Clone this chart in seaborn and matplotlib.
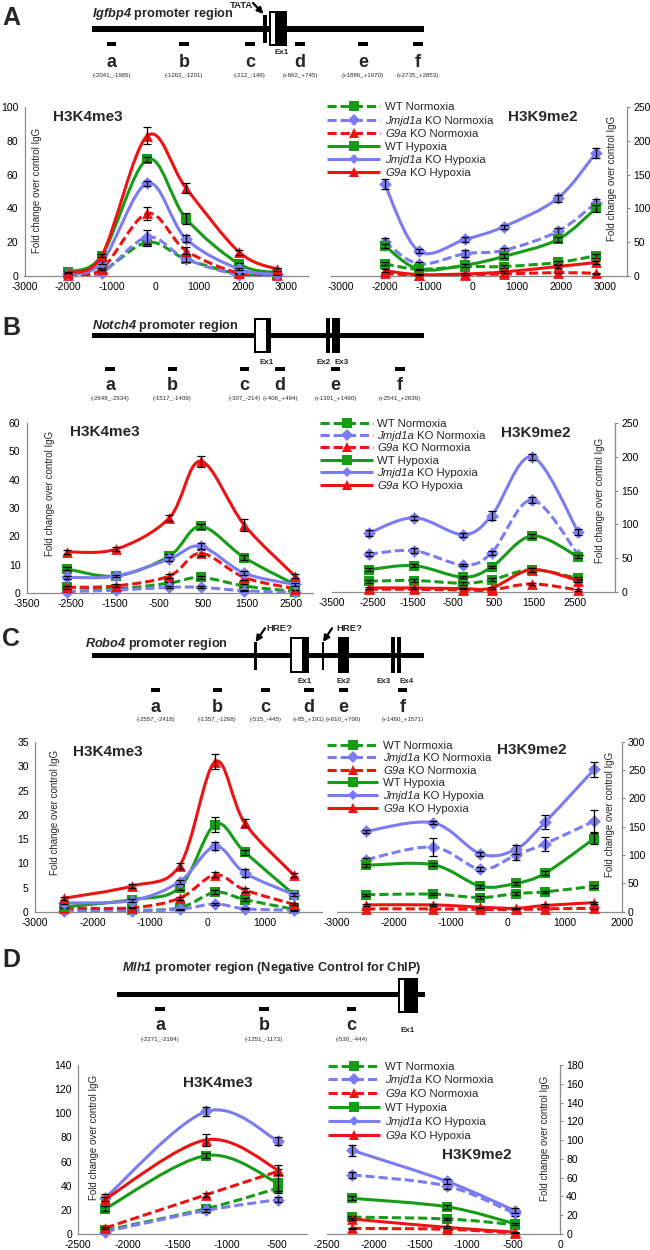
import numpy as np
import matplotlib
matplotlib.use("Agg")
import matplotlib.pyplot as plt
from matplotlib.path import Path
from matplotlib.patches import PathPatch, Rectangle
import seaborn as sns

sns.set_style("white")
plt.rcParams['font.family'] = ['Liberation Sans', 'DejaVu Sans']
plt.rcParams['axes.unicode_minus'] = False
plt.rcParams['mathtext.fontset'] = 'custom'
plt.rcParams['mathtext.rm'] = 'Liberation Sans'
plt.rcParams['mathtext.it'] = 'Liberation Sans:italic'
plt.rcParams['mathtext.bf'] = 'Liberation Sans:bold:italic'

# ---------------- data ----------------
series = ['WT Normoxia', 'Jmjd1a KO Normoxia', 'G9a KO Normoxia',
          'WT Hypoxia', 'Jmjd1a KO Hypoxia', 'G9a KO Hypoxia']
italic_genes = ['Jmjd1a', 'G9a']

# Igfbp4
A_x = [-2003, -1231.5, -180.5, 703.5, 1928, 2794]
A_k4 = [[2, 3, 20, 10, 1, 0.5],
        [1, 2, 23, 10, 0.5, 0.3],
        [0.5, 4, 37, 15, 1.5, 0.5],
        [2.5, 12, 69, 34, 7, 2],
        [1, 8, 55, 22, 4, 1],
        [2, 12, 83, 52, 14, 4]]
A_k4_err = [[0.5, 0.5, 2, 1.5, 0.3, 0.2],
            [0.3, 0.5, 4, 2, 0.2, 0.2],
            [0.2, 0.5, 4, 2, 0.3, 0.2],
            [0.5, 1, 1.5, 3, 0.8, 0.3],
            [0.3, 0.8, 1.5, 2, 0.5, 0.2],
            [0.5, 1, 5, 3, 1.5, 0.8]]
A_k9 = [[18, 10, 14, 14, 20, 30],
        [51, 18, 33, 38, 66, 108],
        [4, 1, 2, 3, 5, 4],
        [45, 10, 16, 29, 54, 100],
        [136, 37, 54, 73, 115, 182],
        [8, 2, 3, 6, 14, 20]]
A_k9_err = [[2, 1, 2, 2, 2, 3],
            [5, 2, 5, 3, 5, 6],
            [1, 0.5, 1, 1, 1, 1],
            [3, 1, 2, 3, 3, 5],
            [7, 3, 3, 3, 5, 8],
            [2, 1, 1, 1, 2, 2]]
A_ranges = ['(-2041_-1965)', '(-1262_-1201)', '(-212_-149)', '(+662_+745)', '(+1886_+1970)', '(+2735_+2853)']

# Notch4
B_x = [-2591, -1463, -260.5, 450, 1440.5, 2590]
B_k4 = [[2, 1.5, 3.5, 5.5, 2.5, 0.5],
        [0.5, 1, 2, 2, 0.8, 0.2],
        [2, 2.5, 6, 14, 5.5, 1.5],
        [8.5, 6, 13, 23.5, 12.5, 3],
        [5.5, 6, 12, 16.5, 7, 3],
        [14.5, 15.5, 26.5, 46.5, 24, 6]]
B_k4_err = [[0.3, 0.3, 0.5, 0.5, 0.5, 0.2],
            [0.2, 0.2, 0.3, 0.3, 0.2, 0.1],
            [0.5, 0.5, 0.8, 1, 0.8, 0.3],
            [0.5, 0.5, 0.8, 1, 0.8, 0.5],
            [0.5, 0.5, 0.8, 1, 0.8, 0.5],
            [0.8, 0.6, 1, 2, 2, 0.8]]
B_k9 = [[16, 17, 13, 18, 33, 20],
        [56, 61, 40, 58, 136, 55],
        [4, 4, 3, 3, 12, 3],
        [33, 39, 22, 37, 83, 52],
        [87, 110, 85, 113, 200, 89],
        [6, 6, 5, 6, 33, 17]]
B_k9_err = [[2, 2, 2, 2, 3, 2],
            [3, 4, 2, 3, 5, 3],
            [1, 1, 1, 1, 2, 1],
            [2, 2, 2, 2, 3, 2],
            [4, 3, 3, 7, 4, 4],
            [1, 1, 1, 1, 3, 2]]
B_ranges = ['(-2648_-2534)', '(-1517_-1409)', '(-307_-214)', '(+406_+494)', '(+1391_+1490)', '(+2541_+2639)']

# Robo4
C_x = [-2487.5, -1312.5, -480, 138, 655, 1515.5]
C_k4 = [[0.5, 0.3, 0.8, 4, 2.5, 0.5],
        [0.2, 0.2, 0.5, 1.6, 0.6, 0.3],
        [0.8, 0.8, 2.8, 7.6, 4.5, 1.5],
        [1, 2.5, 5, 18, 12.3, 3.5],
        [1.8, 2.3, 6.2, 13.5, 8, 3.5],
        [2.8, 5.3, 9.5, 31, 18.3, 7.5]]
C_k4_err = [[0.1, 0.1, 0.2, 0.4, 0.3, 0.1],
            [0.1, 0.1, 0.1, 0.3, 0.1, 0.1],
            [0.1, 0.1, 0.3, 0.5, 0.5, 0.2],
            [0.2, 0.3, 0.5, 1.5, 0.5, 0.3],
            [0.2, 0.3, 0.4, 0.8, 0.8, 0.3],
            [0.3, 0.4, 0.6, 1.5, 0.8, 0.4]]
C_k9 = [[30, 31, 25, 32, 35, 45],
        [92, 114, 75, 100, 120, 160],
        [5, 5, 4, 4, 5, 6],
        [82, 83, 45, 50, 68, 129],
        [142, 157, 102, 110, 158, 251],
        [12, 12, 8, 6, 11, 16]]
C_k9_err = [[2, 2, 2, 2, 2, 3],
            [3, 16, 4, 8, 12, 20],
            [1, 1, 1, 1, 1, 1],
            [3, 3, 3, 3, 3, 10],
            [3, 3, 4, 8, 12, 14],
            [2, 2, 1, 1, 2, 2]]
C_ranges = ['(-2557_-2418)', '(-1357_-1268)', '(-515_-445)', '(+85_+191)', '(+610_+700)', '(+1460_+1571)']

# Mlh1
D_x = [-2227.5, -1212, -487]
D_k4 = [[3, 21, 38],
        [2, 19.5, 28.5],
        [5, 32.5, 52],
        [21, 65, 42],
        [30, 101.5, 77],
        [29, 78, 53]]
D_k4_err = [[0.5, 1, 2], [0.5, 1, 2], [1, 1.5, 2], [2, 2, 8], [3, 3.5, 3], [2, 5, 4]]
D_k9 = [[18, 16, 10],
        [63, 51, 22],
        [6, 5, 1],
        [38, 29, 11],
        [89, 56, 25],
        [16, 7, 2]]
D_k9_err = [[1, 1, 1], [3, 3, 3], [0.5, 0.5, 0.3], [2, 2, 1], [6, 3, 3], [1, 1, 0.5]]
D_ranges = ['(-2271_-2184)', '(-1251_-1173)', '(-530_-444)']

# ---------------- style ----------------
GREEN, BLUE, RED = '#179c17', '#7b7bf2', '#ee1313'
COLORS = [GREEN, BLUE, RED, GREEN, BLUE, RED]
MARKERS = ['s', 'D', '^', 's', 'D', '^']
SIZES = [50, 42, 60, 50, 42, 60]
LEG_MS = [7, 6.5, 7.5, 7, 5, 7.5]
DASH = (0, (3, 1.3))
LS = [DASH, DASH, DASH, '-', '-', '-']
AXC = '#8a8a8a'

W, H = 650, 1250
fig = plt.figure(figsize=(W / 100, H / 100), dpi=100)
renderer = fig.canvas.get_renderer()
ov = fig.add_axes([0, 0, 1, 1], zorder=10)
ov.set_xlim(0, W)
ov.set_ylim(H, 0)
ov.axis('off')
ov.patch.set_alpha(0)


def px_box(x0, y0, x1, y1):
    return [x0 / W, 1 - y1 / H, (x1 - x0) / W, (y1 - y0) / H]


def smooth(x, y):
    # excel-like smoothed line as cubic bezier through the points
    p = np.column_stack([x, y]).astype(float)
    n = len(p)
    verts, codes = [p[0]], [Path.MOVETO]
    for i in range(n - 1):
        p0 = p[max(i - 1, 0)]
        p3 = p[min(i + 2, n - 1)]
        verts += [p[i] + (p[i + 1] - p0) / 6, p[i + 1] - (p3 - p[i]) / 6, p[i + 1]]
        codes += [Path.CURVE4] * 3
    return Path(verts, codes)


def chart(xs, vals, errs, box, xlim, xticks, ymax, ystep, right):
    ax = fig.add_axes(px_box(*box))
    ax.patch.set_alpha(0)
    xs = np.array(xs, float)
    for i in range(6):
        y = np.array(vals[i], float)
        e = np.array(errs[i], float)
        ax.add_patch(PathPatch(smooth(xs, y), facecolor='none', edgecolor=COLORS[i],
                               lw=2.2, linestyle=LS[i], zorder=2 + i, capstyle='butt'))
        sns.scatterplot(x=xs, y=y, marker=MARKERS[i], s=SIZES[i], color=COLORS[i],
                        linewidth=0, ax=ax, zorder=2.5 + i, legend=False, clip_on=False)
        m = e > 0
        if m.any():
            ax.errorbar(xs[m], y[m], yerr=e[m], fmt='none', ecolor='black', elinewidth=0.9,
                        capsize=3.2, capthick=0.9, zorder=2.6 + i, clip_on=False)
    ax.set_xlim(*xlim)
    ax.set_ylim(0, ymax)
    ax.set_xticks(list(xticks))
    ax.set_yticks(np.arange(0, ymax + 0.1, ystep))
    for s in ax.spines.values():
        s.set_visible(False)
    side = 'right' if right else 'left'
    for s in ('bottom', side):
        ax.spines[s].set_visible(True)
        ax.spines[s].set_color(AXC)
        ax.spines[s].set_linewidth(0.9)
    if right:
        ax.yaxis.tick_right()
    ax.tick_params(axis='both', direction='out', length=2.5, width=0.8, color=AXC,
                   labelsize=7.5, labelcolor='black', pad=2)
    ax.set_xlabel('')
    ax.set_ylabel('')
    return ax


rng1k = lambda a, b: range(a, b + 1, 1000)
charts = [
    (A_x, A_k4, A_k4_err, (24.5, 107, 308, 276), (-3000, 3500), rng1k(-3000, 3000), 100, 20, False),
    (A_x, A_k9, A_k9_err, (331, 107, 627, 276), (-3220, 3500), rng1k(-3000, 3000), 250, 50, True),
    (B_x, B_k4, B_k4_err, (26.6, 423, 313, 593), (-3500, 3000), rng1k(-3500, 2500), 60, 10, False),
    (B_x, B_k9, B_k9_err, (332, 423, 615, 592), (-3500, 3500), rng1k(-3500, 2500), 250, 50, True),
    (C_x, C_k4, C_k4_err, (35, 742.3, 322, 911.7), (-3000, 2000), rng1k(-3000, 1000), 35, 5, False),
    (C_x, C_k9, C_k9_err, (337, 741.7, 621.7, 911.7), (-3000, 2000), rng1k(-3000, 2000), 300, 50, True),
    (D_x, D_k4, D_k4_err, (78.3, 1065, 306.7, 1234), (-2500, -200), range(-2500, -499, 500), 140, 20, False),
    (D_x, D_k9, D_k9_err, (327, 1065, 560, 1234), (-2500, 0), range(-2500, 1, 500), 180, 20, True),
]
axes = [chart(*c) for c in charts]

# chart titles and y labels
titles = [(53, 121, 'H3K4me3'), (508, 120.7, 'H3K9me2'), (70, 436, 'H3K4me3'), (500.7, 437.3, 'H3K9me2'),
          (72.7, 756, 'H3K4me3'), (496.7, 754.3, 'H3K9me2'), (182.7, 1086.7, 'H3K4me3'), (441.7, 1159, 'H3K9me2')]
for x, y, t in titles:
    ov.text(x, y, t, fontsize=11, fontweight='bold', ha='left', va='baseline')
ylabs = [(37, 190), (612, 178), (50, 493), (600, 500), (55, 812), (610, 814), (94, 1137), (545, 1138)]
for x, y in ylabs:
    ov.text(x, y, 'Fold change over control IgG', fontsize=7, rotation=90, ha='center', va='center')


def label(x, y, text, size):
    # gene names in italics, the rest upright
    first, rest = text.split(' ', 1)
    parts = [(first, 'italic'), (' ' + rest, 'normal')] if first in italic_genes else [(text, 'normal')]
    for t, st in parts:
        tx = ov.text(x, y, t, fontsize=size, style=st, ha='left', va='baseline')
        x += tx.get_window_extent(renderer).width


# legends (drawn as key rows next to each H3K9me2 chart)
def legend(x0, x1, xt, rows):
    for i, yc in enumerate(rows):
        ov.plot([x0, x1], [yc, yc], color=COLORS[i], lw=2.2, ls=LS[i], solid_capstyle='butt')
        ov.plot([(x0 + x1) / 2], [yc], marker=MARKERS[i], ms=LEG_MS[i], color=COLORS[i], mew=0)
        label(xt, yc + 4.1, series[i], 8.2)


legend(327, 380, 385, [106, 120, 133.3, 145.7, 159, 172.3])
legend(320, 373, 377, [423.3, 435, 447.3, 460, 472.3, 484.7])
legend(327, 378, 383, [745, 757.3, 770, 782.3, 795, 808.3])
legend(328, 380, 385, [1066, 1079.3, 1093.3, 1107.3, 1121.3, 1135.3])


# ---------------- gene diagrams ----------------
def rect(x0, y0, x1, y1, c='black'):
    ov.add_patch(Rectangle((x0, y0), x1 - x0, y1 - y0, facecolor=c, edgecolor='none'))


def exon_open(x0, y0, x1, y1, wx1):
    rect(x0, y0, x1, y1)
    rect(x0 + 2, y0 + 2, wx1, y1 - 2, 'white')


def small(x, y, t, size=5.8, weight='bold'):
    ov.text(x, y, t, fontsize=size, fontweight=weight, ha='center', va='center')


def primers(xs, ybar, ybase, yrng, ranges):
    for x, lab, r in zip(xs, 'abcdef', ranges):
        rect(x - 4.7, ybar, x + 4.7, ybar + 4)
        ov.text(x, ybase, lab, fontsize=13, fontweight='bold', ha='center', va='baseline')
        ov.text(x, yrng, r, fontsize=4.4, ha='center', va='center')


def arrow(x0, y0, x1, y1):
    ov.annotate('', xy=(x1, y1), xytext=(x0, y0),
                arrowprops=dict(arrowstyle='-|>', color='black', lw=1.6, mutation_scale=9,
                                shrinkA=0, shrinkB=0))


def title(x, y, t):
    ov.text(x, y, t, fontsize=9.2, fontweight='bold', ha='left', va='baseline')


for lab, yb in zip('ABCD', [25, 335, 646, 967]):
    ov.text(2, yb, lab, fontsize=18, fontweight='bold', ha='left', va='baseline')

# A: Igfbp4
title(92, 16.5, r'$\mathbf{Igfbp4}$ promoter region')
rect(92, 26, 424, 31.5)
rect(263.3, 14.5, 266.7, 42.5)
exon_open(268.7, 11, 287.3, 46, 274.7)
small(241, 5, 'TATA', 6.8)
arrow(253, 3, 263.5, 14)
small(282, 53, 'Ex1')
primers([111.5, 184, 250, 300, 363, 418], 42, 66.7, 75, A_ranges)

# B: Notch4
title(92, 328.5, r'$\mathbf{Notch4}$ promoter region')
rect(92, 333.3, 424, 338.3)
exon_open(254.3, 318.3, 270.7, 352.7, 265.7)
rect(326, 318.3, 330, 352.7)
rect(332.3, 318.3, 340, 352.7)
small(266.7, 362, 'Ex1')
small(323.3, 362, 'Ex2')
small(341.7, 362, 'Ex3')
primers([110, 172.3, 244.3, 280, 335.7, 400], 366.7, 390, 398.5, B_ranges)

# C: Robo4
title(85, 646.5, r'$\mathbf{Robo4}$ promoter region')
rect(92, 653.3, 424, 658.3)
rect(254.3, 642.3, 257, 670)
rect(321.7, 642.3, 324.3, 670)
arrow(265, 628.3, 255.5, 642)
arrow(332, 628.3, 323, 642)
small(279, 628.3, 'HRE?', 6.8)
small(349, 628.3, 'HRE?', 6.8)
exon_open(290, 637.3, 309.3, 672.7, 301.7)
rect(338.3, 637.3, 349.3, 672.7)
rect(390.7, 637.3, 395, 673)
rect(396.7, 637.3, 401, 673)
for x, t in zip([305, 344, 383.3, 406.7], ['Ex1', 'Ex2', 'Ex3', 'Ex4']):
    small(x, 681.7, t)
primers([155.7, 217.3, 265.7, 309, 343.3, 402.7], 688.3, 711.7, 720, C_ranges)

# D: Mlh1
title(122.3, 970.9, r'$\mathbf{Mlh1}$ promoter region (Negative Control for ChIP)')
rect(116.7, 991.7, 425, 997.3)
exon_open(397.7, 977.7, 418.3, 1012.7, 404.3)
small(407.3, 1030, 'Ex1')
primers([160, 264, 351.7], 1006.7, 1030, 1039.3, D_ranges)

fig.savefig('out.png', dpi=100)
